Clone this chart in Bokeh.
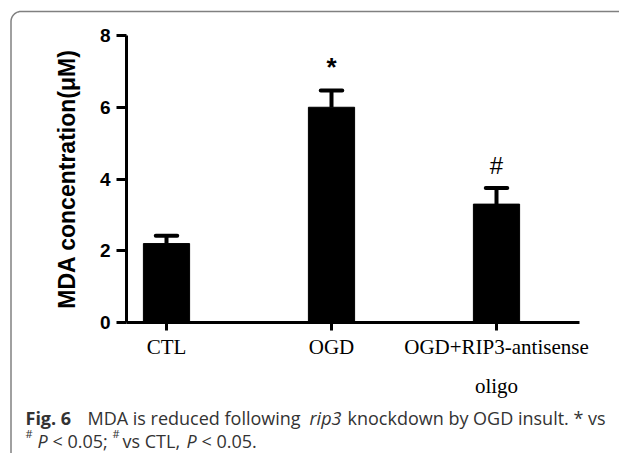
import numpy as np
from bokeh.plotting import figure
from bokeh.models import Range1d, FixedTicker
from bokeh.embed import file_html
from bokeh.resources import INLINE
from bokeh.core.properties import value

categories = ["CTL", "OGD", "OGD+RIP3-antisense\noligo"]
means = [2.2, 6.0, 3.3]
errors = [0.22, 0.47, 0.45]
y_ticks = [0, 2, 4, 6, 8]

xs = [i + 1 for i in range(len(categories))]
upper = [m + e for m, e in zip(means, errors)]

# ---- layout (pixel geometry of the canvas) ----
W, H = 619, 453
X0PX, XU = 166.0, 165.0      # px of first category centre, px per category step
Y0PX, YU = 322.0, 35.875     # px of y=0, px per y unit


def dx(px):
    return 1 + (px - X0PX) / XU


def dy(py):
    return (Y0PX - py) / YU


p = figure(width=W, height=H, output_backend="svg", toolbar_location=None,
           x_range=Range1d(dx(0), dx(W)), y_range=Range1d(dy(H), dy(0)),
           min_border=0, min_border_left=0, min_border_right=0,
           min_border_top=0, min_border_bottom=0)
p.title.visible = False
p.outline_line_color = None
p.xgrid.visible = False
p.ygrid.visible = False
p.background_fill_color = "white"
p.border_fill_color = "white"

# ---- axes ----
ya = p.yaxis[0]
ya.fixed_location = dx(126)
ya.bounds = (0, 8)
ya.ticker = FixedTicker(ticks=y_ticks)
ya.axis_line_width = 3
ya.major_tick_line_width = 3
ya.major_tick_out = 10
ya.major_tick_in = 0
ya.minor_tick_out = 0
ya.minor_tick_in = 0
ya.major_label_text_font = "Liberation Sans"
ya.major_label_text_font_style = "bold"
ya.major_label_text_font_size = "19px"
ya.major_label_text_color = "black"
ya.major_label_standoff = 6
ya.axis_label = "MDA concentration(μM)"
ya.axis_label_text_font = "Liberation Sans"
ya.axis_label_text_font_style = "bold"
ya.axis_label_text_font_size = "23px"
ya.axis_label_text_color = "black"
ya.axis_label_standoff = 17

xa = p.xaxis[0]
xa.fixed_location = 0
xa.bounds = (dx(126), dx(579))
xa.ticker = FixedTicker(ticks=xs)
xa.major_label_overrides = {x: c for x, c in zip(xs, categories)}
xa.axis_line_width = 3
xa.major_tick_line_width = 3
xa.major_tick_out = 8
xa.major_tick_in = 0
xa.minor_tick_out = 0
xa.minor_tick_in = 0
xa.major_label_text_font = "Liberation Serif"
xa.major_label_text_font_size = "21px"
xa.major_label_text_color = "black"
xa.major_label_text_line_height = 1.65
xa.major_label_standoff = 4

# ---- bars and error bars ----
p.vbar(x=xs, top=means, bottom=0, width=0.28, color="black")
p.segment(x0=xs, y0=means, x1=xs, y1=upper, line_width=4, line_color="black")
p.segment(x0=[x - 0.065 for x in xs], y0=upper, x1=[x + 0.065 for x in xs], y1=upper,
          line_width=4, line_color="black", line_cap="round")

# ---- significance marks ----
p.text(x=[xs[1]], y=[upper[1]], text=["*"], text_align="center", text_baseline="alphabetic",
       y_offset=-23, text_font=value("Liberation Sans"), text_font_style="bold",
       text_font_size="26px", text_color="black")
p.text(x=[xs[2]], y=[upper[2]], text=["#"], text_align="center", text_baseline="alphabetic",
       y_offset=-22, text_font=value("Liberation Sans"),
       text_font_size="24px", text_color="black")

# ---- caption ----
cap_color = "#333333"


def cap(px, py, txt, style="normal", size="18px"):
    p.text(x=[dx(px)], y=[dy(py)], text=[txt], text_font=value("Open Sans"),
           text_font_style=style, text_font_size=size, text_color=cap_color,
           text_baseline="alphabetic", text_align="left")


L1, L2 = 417, 440
cap(25, L1, "Fig. 6", "bold")
cap(87, L1, "MDA is reduced following")
cap(309, L1, "rip3", "italic")
cap(347, L1, "knockdown by OGD insult. * vs")
cap(25, L2 - 7, "#", size="11px")
cap(37, L2, "P", "italic")
cap(52, L2, "< 0.05;")
cap(112, L2 - 7, "#", size="11px")
cap(122, L2, "vs CTL,")
cap(186, L2, "P", "italic")
cap(201, L2, "< 0.05.")

# ---- rounded frame around the figure ----
L, T, R, B, r = 10.5, 11.0, W + 10, 462.0, 10.0
a1 = np.linspace(np.pi / 2, np.pi, 12)
a2 = np.linspace(np.pi, 1.5 * np.pi, 12)
bx = np.concatenate([[R], L + r + r * np.cos(a1), L + r + r * np.cos(a2), [R]])
by = np.concatenate([[T], T + r - r * np.sin(a1), B - r - r * np.sin(a2), [B]])
p.line(x=[dx(v) for v in bx], y=[dy(v) for v in by], line_width=1.5, line_color="#808080")

open("out.html", "w").write(file_html(p, INLINE))
